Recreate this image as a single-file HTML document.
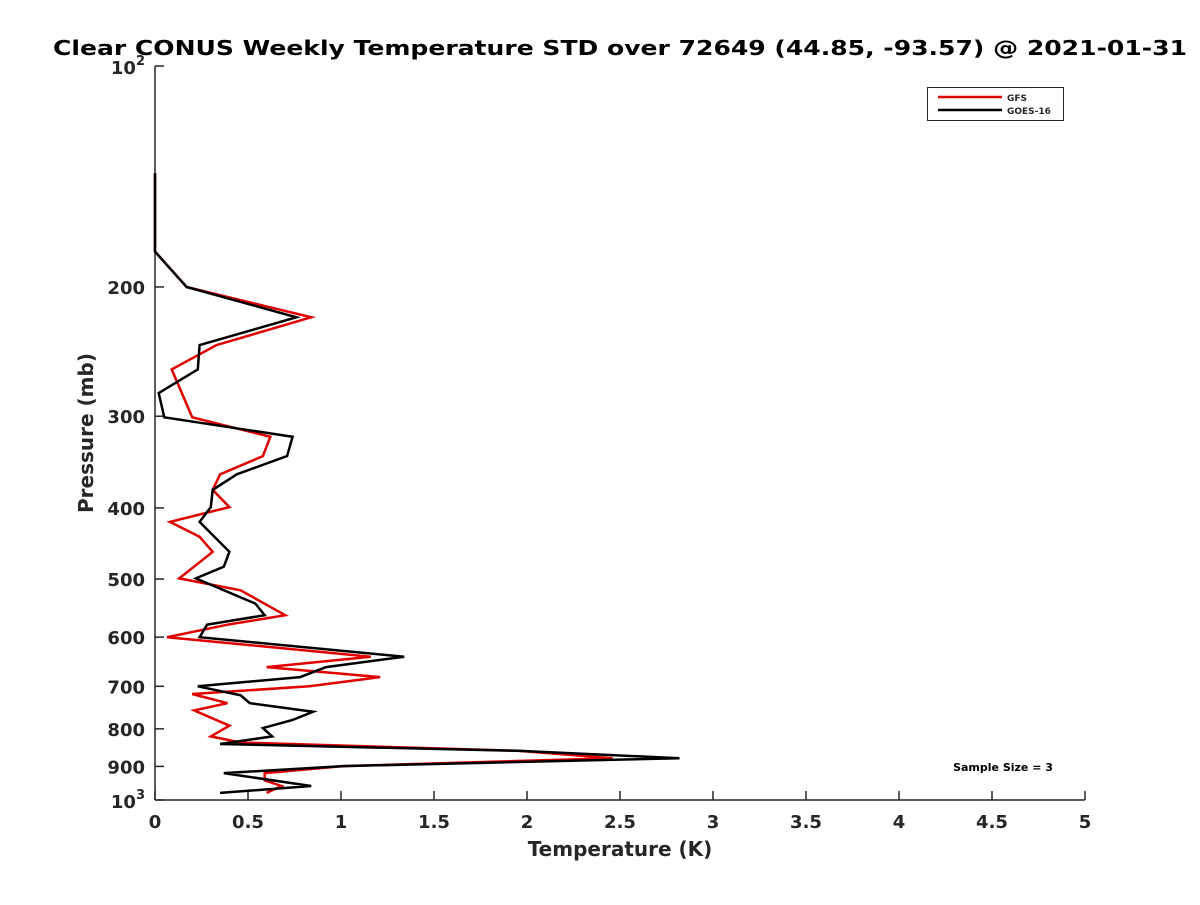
<!DOCTYPE html>
<html><head><meta charset="utf-8"><style>
body{margin:0;background:#fff;width:1200px;height:900px;overflow:hidden}
svg text{font-family:"DejaVu Sans","Liberation Sans",sans-serif;font-weight:bold;fill:#262626}
</style></head><body>
<svg id="chart" width="1200" height="900" xmlns="http://www.w3.org/2000/svg">
<text x="620" y="55" text-anchor="middle" font-size="20" fill="#000" style="fill:#000" textLength="1134" lengthAdjust="spacingAndGlyphs">Clear CONUS Weekly Temperature STD over 72649 (44.85, -93.57) @ 2021-01-31</text>
<g id="axes"></g>
<g id="series"></g>
<g>
<rect x="927.5" y="87.5" width="136" height="33" fill="#fff" stroke="#262626" stroke-width="1"/>
<line x1="938" y1="97" x2="1002" y2="97" stroke="#e00000" stroke-width="2.5"/>
<text x="1007" y="101" font-size="9">GFS</text>
<line x1="938" y1="110" x2="1002" y2="110" stroke="#000" stroke-width="2.5"/>
<text x="1007" y="114" font-size="9">GOES-16</text>
</g>
<text x="1003" y="771" text-anchor="middle" font-size="11" style="fill:#000">Sample Size = 3</text>
<text x="620" y="856" text-anchor="middle" font-size="20">Temperature (K)</text>
<text transform="translate(93,433) rotate(-90)" text-anchor="middle" font-size="20">Pressure (mb)</text>
</svg>
<script>
const xTicks=[0,0.5,1,1.5,2,2.5,3,3.5,4,4.5,5];
const xTickLabels=["0","0.5","1","1.5","2","2.5","3","3.5","4","4.5","5"];
const yTicks=[200,300,400,500,600,700,800,900];
const gfsPressure=[140,179,200,220,240,259,301,320,340,360,378,399,418,438,459,499,518,560,577,600,638,659,680,700,717,738,755,792,819,835,857,877,899,919,940,957,978];
const gfsTemp=[0,0,0.17,0.84,0.33,0.09,0.20,0.62,0.58,0.35,0.31,0.40,0.08,0.24,0.31,0.13,0.46,0.70,0.39,0.065,1.16,0.60,1.21,0.83,0.20,0.39,0.21,0.40,0.30,0.46,1.95,2.46,1.01,0.59,0.59,0.68,0.60];
const goesPressure=[140,179,200,220,240,259,279,301,320,340,360,378,399,418,459,481,499,540,560,577,600,638,659,680,700,720,738,758,778,798,819,839,857,877,899,919,957,978];
const goesTemp=[0,0,0.17,0.76,0.24,0.23,0.02,0.05,0.74,0.71,0.44,0.31,0.30,0.24,0.40,0.37,0.22,0.54,0.59,0.28,0.24,1.34,0.92,0.78,0.23,0.46,0.51,0.85,0.74,0.58,0.63,0.35,1.95,2.82,1.01,0.37,0.84,0.35];
const X0=155,X1=1085,Y0=66,Y1=800;
function xs(t){return X0+(t/5)*(X1-X0);}
function ys(p){return Y0+(Math.log10(p)-2)*(Y1-Y0);}
const NS="http://www.w3.org/2000/svg";
function mk(tag,attrs,parent){const e=document.createElementNS(NS,tag);for(const k in attrs)e.setAttribute(k,attrs[k]);parent.appendChild(e);return e;}
const ax=document.getElementById('axes');
let l=mk('line',{x1:X0,y1:Y0,x2:X0,y2:Y1,stroke:'#262626','stroke-width':1.5},ax);


l=mk('line',{x1:X0,y1:Y1,x2:X1,y2:Y1,stroke:'#262626','stroke-width':1.5},ax);


xTicks.forEach((t,i)=>{
 const x=xs(t);
 const tk=mk('line',{x1:x,y1:Y1,x2:x,y2:Y1-9,stroke:'#262626','stroke-width':1.5},ax);
 
 
 const tx=mk('text',{x:x,y:Y1+28,'text-anchor':'middle','font-size':18},ax);
 tx.textContent=xTickLabels[i];
 
 
});
[100,1000].forEach(p=>{
 const y=ys(p);
 const tk=mk('line',{x1:X0,y1:y,x2:X0+9,y2:y,stroke:'#262626','stroke-width':1.5},ax);
 
 
 const tx=mk('text',{x:X0-10,y:y+8,'text-anchor':'end','font-size':18},ax);
 tx.textContent='10';
 const sp=mk('tspan',{dy:-9,'font-size':13},tx);
 sp.textContent=(p===100?'2':'3');
 
 
});
yTicks.forEach(p=>{
 const y=ys(p);
 const tk=mk('line',{x1:X0,y1:y,x2:X0+9,y2:y,stroke:'#262626','stroke-width':1.5},ax);
 
 
 const tx=mk('text',{x:X0-10,y:y+7,'text-anchor':'end','font-size':18},ax);
 tx.textContent=String(p);
 
 
});
const sg=document.getElementById('series');
function line(P,T,color,name){
 const pts=P.map((p,i)=>xs(T[i]).toFixed(1)+','+ys(p).toFixed(1)).join(' ');
 const e=mk('polyline',{points:pts,fill:'none',stroke:color,'stroke-width':2.5,'stroke-linejoin':'miter'},sg);
 
 
}
line(gfsPressure,gfsTemp,'#e00000','gfs-line');
line(goesPressure,goesTemp,'#000000','goes16-line');
</script>
</body></html>
